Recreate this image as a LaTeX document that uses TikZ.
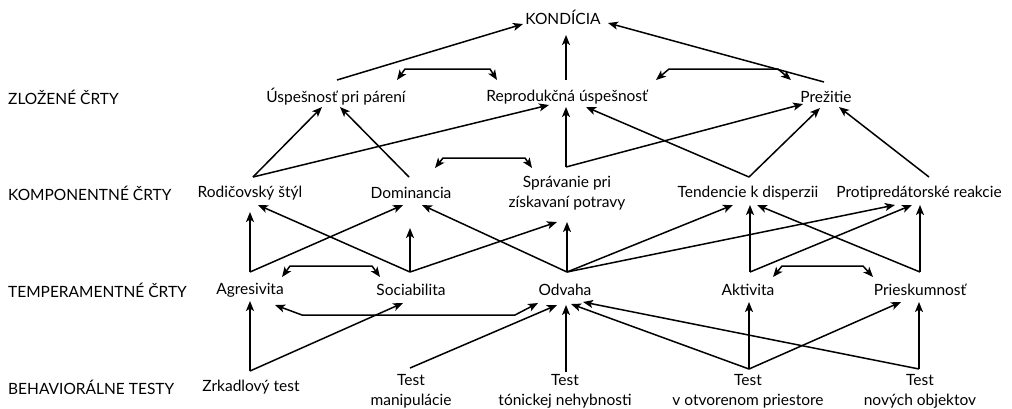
\documentclass[tikz,border=0pt]{standalone}
\usepackage{fontspec}
\setmainfont{Lato}
\usetikzlibrary{arrows.meta,calc}
\begin{document}
\begin{tikzpicture}[x=1pt,y=-1pt,
  lbl/.style={font=\fontsize{15.5}{20}\selectfont, inner sep=0pt, align=center},
  cat/.style={font=\fontsize{15.5}{20}\selectfont, inner sep=0pt, anchor=west},
  arr/.style={line width=1.5pt, -{Stealth[length=10pt,width=8pt,inset=2.5pt]}},
  barr/.style={line width=1.5pt, {Stealth[length=10pt,width=8pt,inset=2.5pt]}-{Stealth[length=10pt,width=8pt,inset=2.5pt]}},
  line join=miter]
\useasboundingbox (0,0) rectangle (1012,408);
\fill[white] (0,0) rectangle (1012,408);
% category labels
\node[cat] (c1) at (8,97) {ZLOŽENÉ ČRTY};
\node[cat] (c2) at (8,193) {KOMPONENTNÉ ČRTY};
\node[cat] (c3) at (8,290) {TEMPERAMENTNÉ ČRTY};
\node[cat] (c4) at (8,387) {BEHAVIORÁLNE TESTY};
% nodes
\node[lbl] (kon) at (563,17) {KONDÍCIA};
\node[lbl] (usp) at (336,97) {Úspešnosť pri párení};
\node[lbl] (rep) at (567,97) {Reprodukčná úspešnosť};
\node[lbl] (pre) at (826,97) {Prežitie};
\node[lbl] (rod) at (250,193) {Rodičovský štýl};
\node[lbl] (dom) at (411,193) {Dominancia};
\node[lbl] (spr) at (567,193) {Správanie pri\\získavaní potravy};
\node[lbl] (ten) at (748,193) {Tendencie k disperzii};
\node[lbl] (pro) at (919,193) {Protipredátorské reakcie};
\node[lbl] (agr) at (250,290) {Agresivita};
\node[lbl] (soc) at (411,290) {Sociabilita};
\node[lbl] (odv) at (565,290) {Odvaha};
\node[lbl] (akt) at (748,290) {Aktivita};
\node[lbl] (pri) at (920,290) {Prieskumnosť};
\node[lbl] (zrk) at (251,387) {Zrkadlový test};
\node[lbl] (tm) at (411,391) {Test\\manipulácie};
\node[lbl] (tt) at (565,391) {Test\\tónickej nehybnosti};
\node[lbl] (tv) at (748,391) {Test\\v otvorenom priestore};
\node[lbl] (tn) at (920,391) {Test\\nových objektov};
% top level
\draw[arr] ([shift={(1,-17)}]usp.center) -- ([shift={(-40,7)}]kon.center);
\draw[arr] ([shift={(-1,-17)}]rep.center) -- ([shift={(3,18)}]kon.center);
\draw[arr] ([shift={(-2,-15)}]pre.center) -- ([shift={(45,6)}]kon.center);
\draw[barr] ([shift={(61,-17)}]usp.center) -- ([shift={(69,-28)}]usp.center) -- ([shift={(-77,-28)}]rep.center) -- ([shift={(-70,-17)}]rep.center);
\draw[barr] ([shift={(89,-17)}]rep.center) -- ([shift={(102,-28)}]rep.center) -- ([shift={(-48,-28)}]pre.center) -- ([shift={(-35,-17)}]pre.center);
% komponentne -> zlozene
\draw[arr] ([shift={(3,-16)}]rod.center) -- ([shift={(-14,10)}]usp.center);
\draw[arr] ([shift={(3,-16)}]rod.center) -- ([shift={(-18,8)}]rep.center);
\draw[arr] ([shift={(-2,-16)}]dom.center) -- ([shift={(4,10)}]usp.center);
\draw[arr] ([shift={(-1,-26)}]spr.center) -- ([shift={(-1,10)}]rep.center);
\draw[arr] ([shift={(-1,-26)}]spr.center) -- ([shift={(-23,7)}]pre.center);
\draw[arr] ([shift={(1,-16)}]ten.center) -- ([shift={(19,10)}]rep.center);
\draw[arr] ([shift={(1,-16)}]ten.center) -- ([shift={(-6,11)}]pre.center);
\draw[arr] ([shift={(10,-16)}]pro.center) -- ([shift={(13,10)}]pre.center);
\draw[barr] ([shift={(24,-25)}]dom.center) -- ([shift={(32,-35)}]dom.center) -- ([shift={(-42,-35)}]spr.center) -- ([shift={(-35,-25)}]spr.center);
% temperamentne -> komponentne
\draw[arr] ([shift={(0,-18)}]agr.center) -- ([shift={(0,19)}]rod.center);
\draw[arr] ([shift={(0,-18)}]agr.center) -- ([shift={(-8,12)}]dom.center);
\draw[arr] ([shift={(-1,-18)}]soc.center) -- ([shift={(8,12)}]rod.center);
\draw[arr] ([shift={(-1,-18)}]soc.center) -- ([shift={(-1,35)}]dom.center);
\draw[arr] ([shift={(-1,-18)}]soc.center) -- ([shift={(-10,29)}]spr.center);
\draw[arr] ([shift={(2,-18)}]odv.center) -- ([shift={(11,12)}]dom.center);
\draw[arr] ([shift={(2,-18)}]odv.center) -- ([shift={(0,29)}]spr.center);
\draw[arr] ([shift={(2,-18)}]odv.center) -- ([shift={(-15,12)}]ten.center);
\draw[arr] ([shift={(2,-18)}]odv.center) -- ([shift={(-24,12)}]pro.center);
\draw[arr] ([shift={(2,-18)}]akt.center) -- ([shift={(2,12)}]ten.center);
\draw[arr] ([shift={(2,-18)}]akt.center) -- ([shift={(-7,12)}]pro.center);
\draw[arr] ([shift={(0,-18)}]pri.center) -- ([shift={(9,12)}]ten.center);
\draw[arr] ([shift={(0,-18)}]pri.center) -- ([shift={(1,12)}]pro.center);
\draw[barr] ([shift={(32,-13)}]agr.center) -- ([shift={(40,-24)}]agr.center) -- ([shift={(-39,-24)}]soc.center) -- ([shift={(-31,-13)}]soc.center);
\draw[barr] ([shift={(25,-13)}]akt.center) -- ([shift={(34,-24)}]akt.center) -- ([shift={(-57,-24)}]pri.center) -- ([shift={(-47,-13)}]pri.center);
% behavioralne -> temperamentne
\draw[barr] ([shift={(25,15)}]agr.center) -- ([shift={(52,25)}]agr.center) -- ([shift={(-50,25)}]odv.center) -- ([shift={(-27,13)}]odv.center);
\draw[arr] ([shift={(-1,-16)}]zrk.center) -- ([shift={(0,11)}]agr.center);
\draw[arr] ([shift={(-1,-16)}]zrk.center) -- ([shift={(-8,13)}]soc.center);
\draw[arr] ([shift={(-1,-23)}]tm.center) -- ([shift={(-8,15)}]odv.center);
\draw[arr] ([shift={(1,-19)}]tt.center) -- ([shift={(1,15)}]odv.center);
\draw[arr] ([shift={(1,-22)}]tv.center) -- ([shift={(6,14)}]odv.center);
\draw[arr] ([shift={(-1,-22)}]tn.center) -- ([shift={(18,12)}]odv.center);
\draw[arr] ([shift={(1,-22)}]tv.center) -- ([shift={(1,12)}]akt.center);
\draw[arr] ([shift={(1,-22)}]tv.center) -- ([shift={(-19,12)}]pri.center);
\draw[arr] ([shift={(-1,-22)}]tn.center) -- ([shift={(-1,12)}]pri.center);
\end{tikzpicture}
\end{document}
